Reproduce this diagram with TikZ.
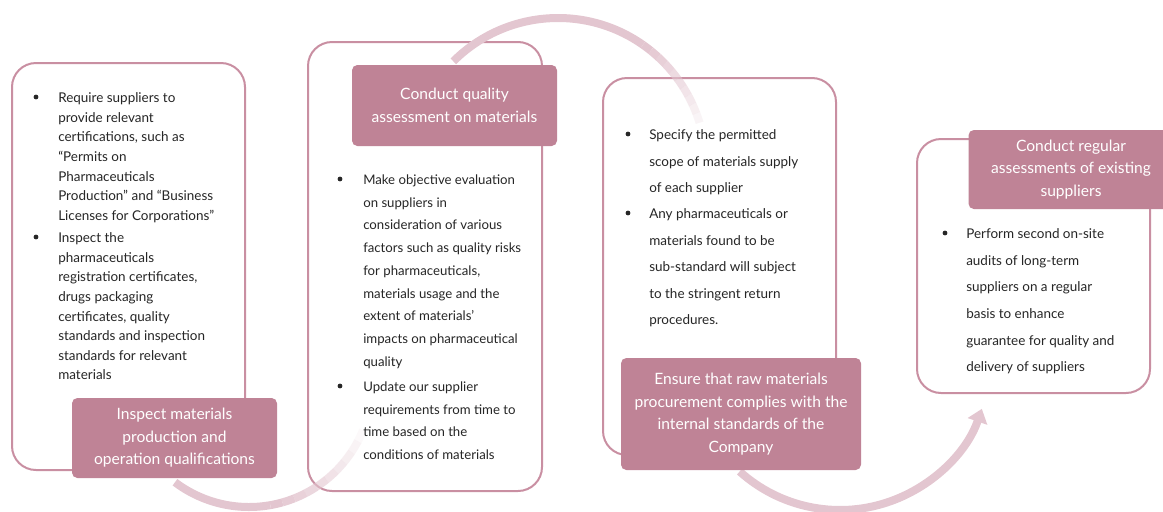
\documentclass[tikz,border=0pt]{standalone}
\usepackage{fontspec}
\setmainfont{Lato}
\usetikzlibrary{arrows.meta}
\definecolor{hdr}{HTML}{BF8396}
\definecolor{brd}{HTML}{C98FA2}
\definecolor{arcc}{HTML}{E3C6D0}
\definecolor{txt}{HTML}{262626}
\begin{document}
\begin{tikzpicture}[x=0.75pt,y=-0.75pt,
  outerbox/.style={draw=brd, line width=1.5pt, fill=white, rounded corners=18pt, inner sep=0pt},
  hdrbox/.style={fill=hdr, rounded corners=4pt, text=white, align=center, inner sep=0pt,
     font=\fontsize{11.7pt}{16.9pt}\selectfont},
  bodytext/.style={anchor=north west, align=left, inner sep=0pt, text=txt},
  bul/.style={circle, fill=txt, inner sep=0pt, minimum size=3.6pt},
  arcline/.style={draw=arcc, line width=6pt}
]
\useasboundingbox (0,0) rectangle (1163,511);
\clip (0,0) rectangle (1163,511);

% outer boxes
\node[outerbox, minimum width=174.75pt, minimum height=305.25pt] (box1) at (128.5,266.5) {};
\node[outerbox, minimum width=175.5pt, minimum height=336.75pt] (box2) at (425,266.5) {};
\node[outerbox, minimum width=174.75pt, minimum height=282.75pt] (box3) at (719.5,266.5) {};
\node[outerbox, minimum width=174.75pt, minimum height=190.5pt] (box4) at (1033.5,266) {};

% arcs
\coordinate (c1) at (249,384);
\coordinate (c2) at (558,166);
\coordinate (c3) at (840,360);
% arc 1 (fades toward its end)
\draw[arcline] ([shift={(127:123)}]c1) arc[start angle=127, end angle=80, radius=123];
\foreach \i in {0,...,9}{
  \pgfmathsetmacro{\sa}{80-5.8*\i}
  \pgfmathsetmacro{\op}{1-0.1*\i}
  \draw[arcline, draw opacity=\op] ([shift={(\sa:123)}]c1) arc[start angle=\sa, end angle=\sa-5.8, radius=123];
}
% arc 2 (fades toward its end)
\draw[arcline] ([shift={(-135:148)}]c2) arc[start angle=-135, end angle=-55, radius=148];
\foreach \i in {0,...,9}{
  \pgfmathsetmacro{\sa}{-55+3.8*\i}
  \pgfmathsetmacro{\op}{1-0.09*\i}
  \draw[arcline, draw opacity=\op] ([shift={(\sa:148)}]c2) arc[start angle=\sa, end angle=\sa+3.8, radius=148];
}
% arc 3 with arrow head
\draw[arcline, -{Triangle[width=15pt,length=10pt]}] ([shift={(132:150)}]c3) arc[start angle=132, end angle=19, radius=150];

% headers
\node[hdrbox, minimum width=153.75pt, minimum height=60pt] (h1) at (174.5,438)
  {Inspect materials\\production and\\operation qualifications};
\node[hdrbox, minimum width=153.75pt, minimum height=60.75pt] (h2) at (454.5,105.5)
  {Conduct quality\\assessment on materials};
\node[hdrbox, minimum width=180pt, minimum height=84pt] (h3) at (741,414)
  {Ensure that raw materials\\procurement complies with the\\internal standards of the\\Company};
\node[hdrbox, minimum width=153.75pt, minimum height=59.25pt] (h4) at (1071,169.5)
  {Conduct regular\\assessments of existing\\suppliers};

% box 1 text
\node[bul] (d1a) at (36,97) {};
\node[bodytext, font=\fontsize{10.1pt}{14.7pt}\selectfont] (t1a) at (58,92.5)
  {Require suppliers to\\provide relevant\\certifications, such as\\“Permits on\\Pharmaceuticals\\Production” and “Business\\Licenses for Corporations”};
\node[bul] (d1b) at (36,237) {};
\node[bodytext, font=\fontsize{10.1pt}{14.7pt}\selectfont] (t1b) at (58,232.5)
  {Inspect the\\pharmaceuticals\\registration certificates,\\drugs packaging\\certificates, quality\\standards and inspection\\standards for relevant\\materials};

% box 2 text
\node[bul] (d2a) at (340,179) {};
\node[bodytext, font=\fontsize{9.9pt}{17.06pt}\selectfont] (t2a) at (363,174.5)
  {Make objective evaluation\\on suppliers in\\consideration of various\\factors such as quality risks\\for pharmaceuticals,\\materials usage and the\\extent of materials’\\impacts on pharmaceutical\\quality};
\node[bul] (d2b) at (340,386) {};
\node[bodytext, font=\fontsize{9.9pt}{17.06pt}\selectfont] (t2b) at (363,381.5)
  {Update our supplier\\requirements from time to\\time based on the\\conditions of materials};

% box 3 text
\node[bul] (d3a) at (628,134) {};
\node[bodytext, font=\fontsize{10.1pt}{19.9pt}\selectfont] (t3a) at (649,129.5)
  {Specify the permitted\\scope of materials supply\\of each supplier};
\node[bul] (d3b) at (628,213) {};
\node[bodytext, font=\fontsize{10.1pt}{19.9pt}\selectfont] (t3b) at (649,208.5)
  {Any pharmaceuticals or\\materials found to be\\sub-standard will subject\\to the stringent return\\procedures.};

% box 4 text
\node[bul] (d4a) at (945,233) {};
\node[bodytext, font=\fontsize{10.1pt}{19.95pt}\selectfont] (t4a) at (966,228.5)
  {Perform second on-site\\audits of long-term\\suppliers on a regular\\basis to enhance\\guarantee for quality and\\delivery of suppliers};
\end{tikzpicture}
\end{document}
